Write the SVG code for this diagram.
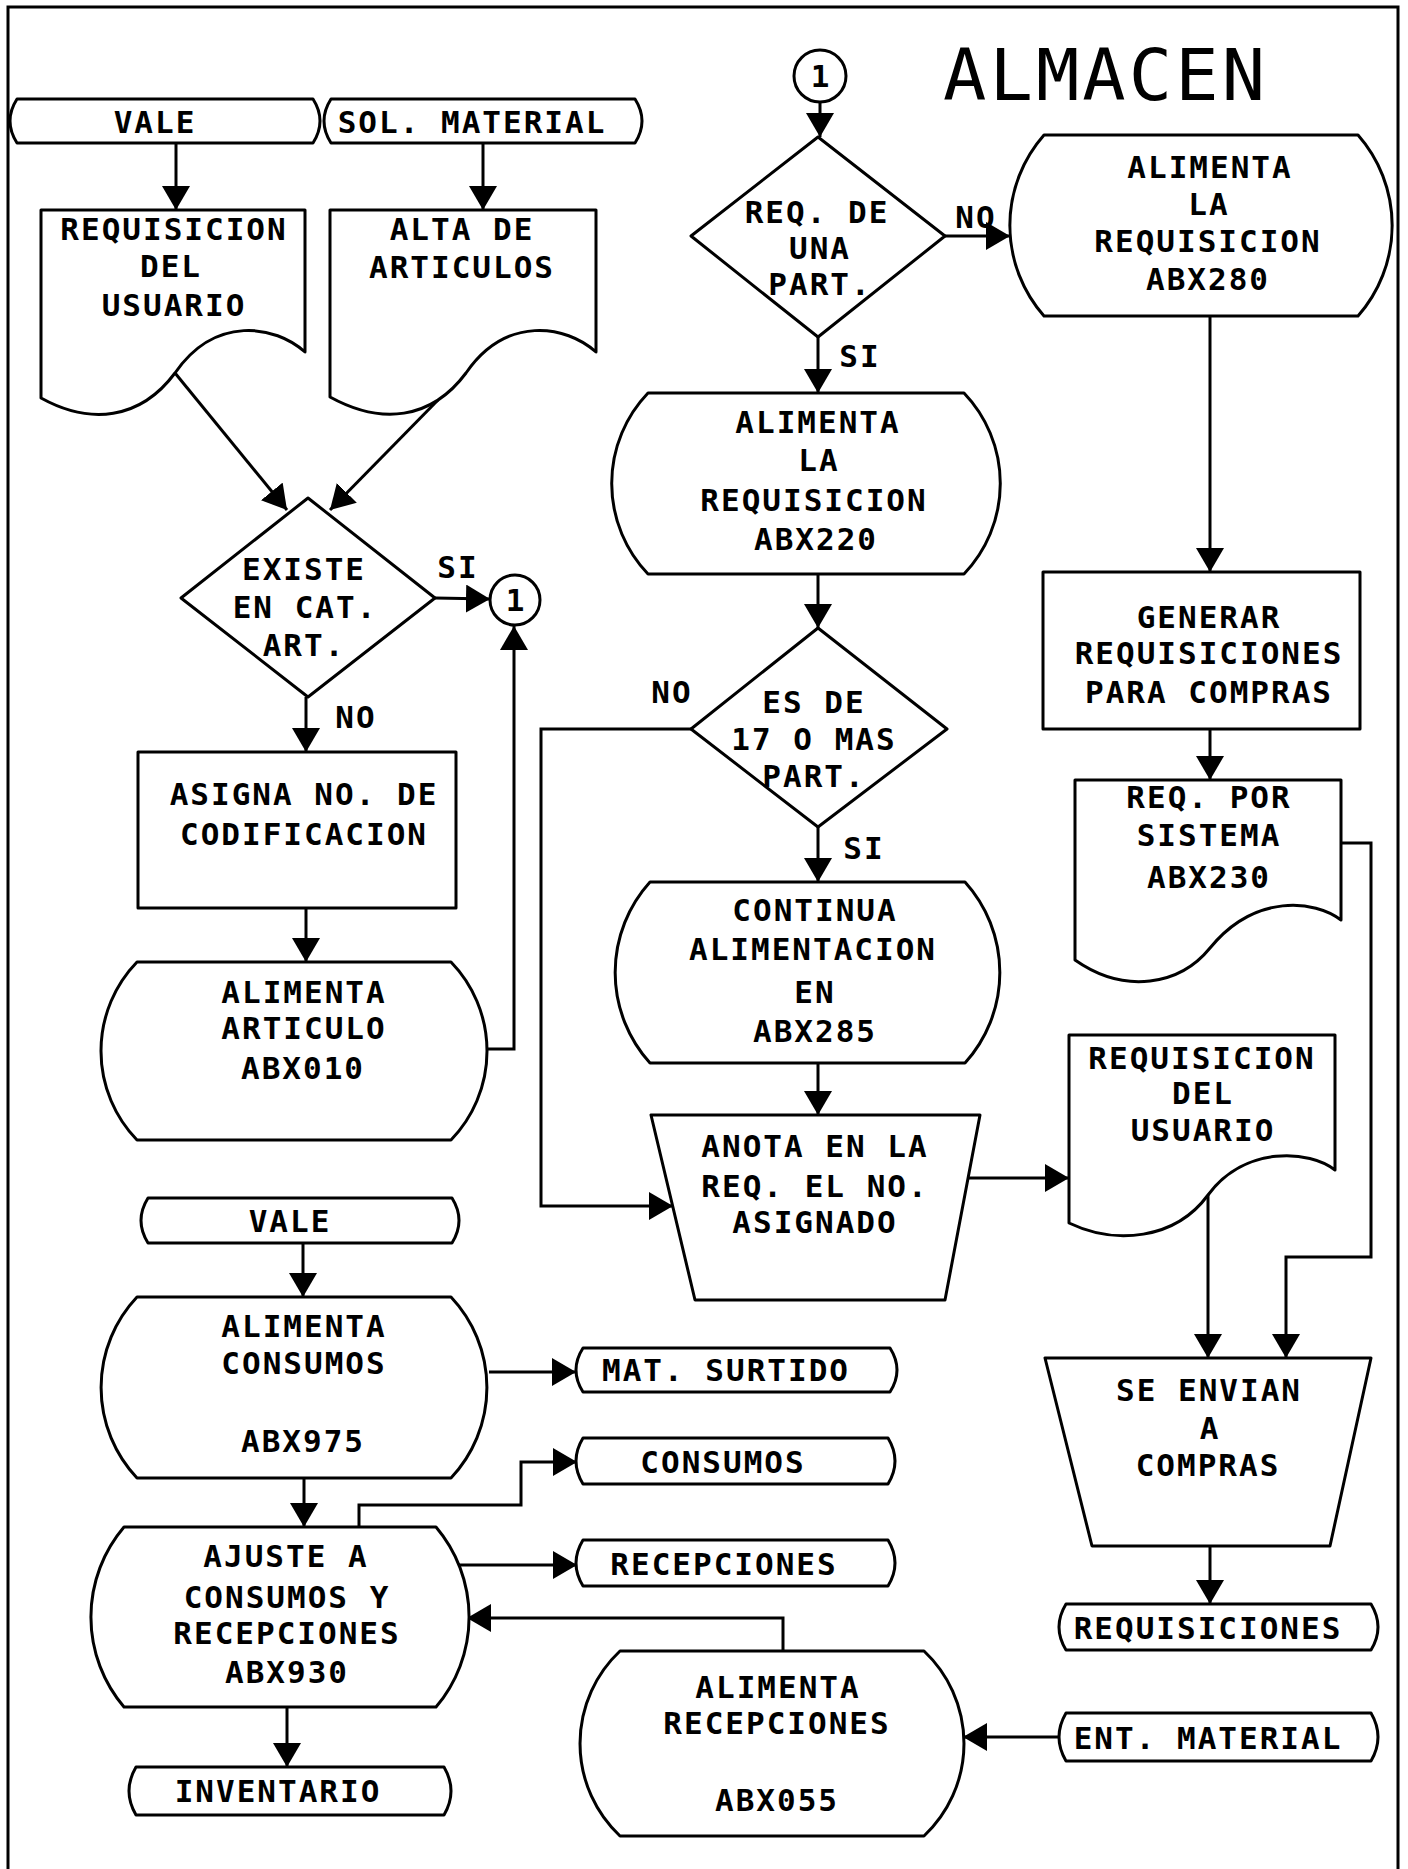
<svg xmlns="http://www.w3.org/2000/svg" width="1408" height="1869" viewBox="0 0 1408 1869">
<style>
.s{fill:#fff;stroke:#000;stroke-width:3;stroke-linejoin:round}
.c{fill:none;stroke:#000;stroke-width:3;marker-end:url(#ah)}
.l{fill:none;stroke:#000;stroke-width:3}
.t{font-family:"DejaVu Sans Mono","Liberation Mono",monospace;font-size:31px;letter-spacing:2px;font-weight:bold;text-anchor:middle;fill:#000}
.ttl{font-family:"DejaVu Sans Mono","Liberation Mono",monospace;font-size:72px;text-anchor:middle;fill:#000}
</style>
<defs>
<marker id="ah" markerUnits="userSpaceOnUse" markerWidth="26" markerHeight="30" refX="24" refY="14" orient="auto"><path d="M0,0 L24,14 L0,28 Z" fill="#000"/></marker>
</defs>
<rect width="1408" height="1869" fill="#fff"/>
<path class="l" d="M8,1869 V7 H1398 V1869"/>
<text class="ttl" x="1104" y="100" textLength="322" lengthAdjust="spacing">ALMACEN</text>

<g id="connectors">
<path class="c" d="M176,143 V210"/>
<path class="c" d="M483,143 V210"/>
<path class="c" d="M175,373 L287,510"/>
<path class="c" d="M438,400 L330,510"/>
<path class="c" d="M435,598 L490,599"/>
<path class="c" d="M306,697 V752"/>
<path class="c" d="M306,908 V962"/>
<path class="c" d="M487,1049 H514 V626"/>
<path class="c" d="M303,1243 V1297"/>
<path class="c" d="M489,1372 H576"/>
<path class="c" d="M304,1478 V1527"/>
<path class="c" d="M359,1527 V1505 H521 V1462 H577"/>
<path class="c" d="M453,1565 H577"/>
<path class="c" d="M783,1651 V1618 H467"/>
<path class="c" d="M287,1707 V1767"/>
<path class="c" d="M1059,1737 H963"/>
<path class="c" d="M820,102 V137"/>
<path class="c" d="M945,236 H1010"/>
<path class="c" d="M818,337 V393"/>
<path class="c" d="M1210,316 V572"/>
<path class="c" d="M818,574 V628"/>
<path class="c" d="M691,729 H541 V1206 H673"/>
<path class="c" d="M818,827 V882"/>
<path class="c" d="M818,1063 V1115"/>
<path class="c" d="M961,1178 H1069"/>
<path class="c" d="M1210,729 V780"/>
<path class="c" d="M1341,843 H1371 V1257 H1286 V1358"/>
<path class="c" d="M1208,1195 V1358"/>
<path class="c" d="M1210,1546 V1604"/>
<text class="t" x="458" y="578">SI</text>
<text class="t" x="356" y="728">NO</text>
<text class="t" x="976" y="228">NO</text>
<text class="t" x="860" y="367">SI</text>
<text class="t" x="672" y="703">NO</text>
<text class="t" x="864" y="859">SI</text>
</g>

<g id="vale1"><path class="s" d="M17,99 H313 Q327,121 313,143 H17 Q3,121 17,99 Z"/><text class="t" x="155" y="133">VALE</text></g>
<g id="sol-material"><path class="s" d="M331,99 H635 Q649,121 635,143 H331 Q317,121 331,99 Z"/><text class="t" x="472" y="133">SOL. MATERIAL</text></g>

<g id="req-usuario1"><path class="s" d="M41,210 H305 V352 C275,325 215,315 175,373 C140,420 90,425 41,398 Z"/>
<text class="t" x="174" y="240">REQUISICION</text><text class="t" x="171" y="277">DEL</text><text class="t" x="174" y="316">USUARIO</text></g>

<g id="alta-articulos"><path class="s" d="M330,210 H596 V352 C566,325 506,315 466,373 C431,420 381,425 330,397 Z"/>
<text class="t" x="462" y="240">ALTA DE</text><text class="t" x="462" y="278">ARTICULOS</text></g>

<g id="existe"><path class="s" d="M308,498 L435,598 L308,697 L181,598 Z"/>
<text class="t" x="304" y="580">EXISTE</text><text class="t" x="305" y="618">EN CAT.</text><text class="t" x="304" y="656">ART.</text></g>

<g id="con1a"><circle class="s" cx="515" cy="600" r="25"/><text class="t" x="516" y="611">1</text></g>

<g id="asigna"><rect class="s" x="138" y="752" width="318" height="156"/>
<text class="t" x="304" y="805">ASIGNA NO. DE</text><text class="t" x="304" y="845">CODIFICACION</text></g>

<g id="abx010"><path class="s" d="M137,962 H451 A128,128 0 0 1 451,1140 H137 A128,128 0 0 1 137,962 Z"/>
<text class="t" x="304" y="1003">ALIMENTA</text><text class="t" x="304" y="1039">ARTICULO</text><text class="t" x="303" y="1079">ABX010</text></g>

<g id="vale2"><path class="s" d="M148,1198 H452 Q466,1220.5 452,1243 H148 Q134,1220.5 148,1198 Z"/><text class="t" x="290" y="1232">VALE</text></g>

<g id="abx975"><path class="s" d="M137,1297 H451 A132,132 0 0 1 451,1478 H137 A132,132 0 0 1 137,1297 Z"/>
<text class="t" x="304" y="1337">ALIMENTA</text><text class="t" x="304" y="1374">CONSUMOS</text><text class="t" x="303" y="1452">ABX975</text></g>

<g id="mat-surtido"><path class="s" d="M583,1348 H890 Q904,1370 890,1392 H583 Q569,1370 583,1348 Z"/><text class="t" x="726" y="1381">MAT. SURTIDO</text></g>
<g id="consumos"><path class="s" d="M583,1438 H888 Q902,1461 888,1484 H583 Q569,1461 583,1438 Z"/><text class="t" x="723" y="1473">CONSUMOS</text></g>
<g id="recepciones"><path class="s" d="M583,1540 H888 Q902,1563 888,1586 H583 Q569,1563 583,1540 Z"/><text class="t" x="724" y="1575">RECEPCIONES</text></g>

<g id="abx930"><path class="s" d="M124,1527 H436 A139,139 0 0 1 436,1707 H124 A139,139 0 0 1 124,1527 Z"/>
<text class="t" x="286" y="1567">AJUSTE A</text><text class="t" x="287" y="1608">CONSUMOS Y</text><text class="t" x="287" y="1644">RECEPCIONES</text><text class="t" x="287" y="1683">ABX930</text></g>

<g id="inventario"><path class="s" d="M136,1767 H444 Q458,1791 444,1815 H136 Q122,1791 136,1767 Z"/><text class="t" x="278" y="1802">INVENTARIO</text></g>

<g id="abx055"><path class="s" d="M620,1651 H924 A127,127 0 0 1 924,1836 H620 A127,127 0 0 1 620,1651 Z"/>
<text class="t" x="778" y="1698">ALIMENTA</text><text class="t" x="777" y="1734">RECEPCIONES</text><text class="t" x="777" y="1811">ABX055</text></g>

<g id="ent-material"><path class="s" d="M1066,1713 H1371 Q1385,1737 1371,1761 H1066 Q1052,1737 1066,1713 Z"/><text class="t" x="1208" y="1749">ENT. MATERIAL</text></g>

<g id="con1b"><circle class="s" cx="820" cy="76" r="26"/><text class="t" x="821" y="87">1</text></g>

<g id="req-una"><path class="s" d="M818,137 L945,236 L818,337 L691,236 Z"/>
<text class="t" x="817" y="223">REQ. DE</text><text class="t" x="820" y="259">UNA</text><text class="t" x="820" y="295">PART.</text></g>

<g id="abx280"><path class="s" d="M1044,135 H1358 A137,137 0 0 1 1358,316 H1044 A137,137 0 0 1 1044,135 Z"/>
<text class="t" x="1210" y="178">ALIMENTA</text><text class="t" x="1209" y="215">LA</text><text class="t" x="1208" y="252">REQUISICION</text><text class="t" x="1208" y="290">ABX280</text></g>

<g id="abx220"><path class="s" d="M648,393 H964 A131,131 0 0 1 964,574 H648 A131,131 0 0 1 648,393 Z"/>
<text class="t" x="818" y="433">ALIMENTA</text><text class="t" x="819" y="471">LA</text><text class="t" x="814" y="511">REQUISICION</text><text class="t" x="816" y="550">ABX220</text></g>

<g id="es-de"><path class="s" d="M818,628 L947,729 L818,827 L691,729 Z"/>
<text class="t" x="814" y="713">ES DE</text><text class="t" x="814" y="750">17 O MAS</text><text class="t" x="814" y="787">PART.</text></g>

<g id="abx285"><path class="s" d="M650,882 H965 A135,135 0 0 1 965,1063 H650 A135,135 0 0 1 650,882 Z"/>
<text class="t" x="815" y="921">CONTINUA</text><text class="t" x="813" y="960">ALIMENTACION</text><text class="t" x="815" y="1003">EN</text><text class="t" x="815" y="1042">ABX285</text></g>

<g id="anota"><path class="s" d="M651,1115 H980 L945,1300 H695 Z"/>
<text class="t" x="815" y="1157">ANOTA EN LA</text><text class="t" x="815" y="1197">REQ. EL NO.</text><text class="t" x="815" y="1233">ASIGNADO</text></g>

<g id="req-usuario2"><path class="s" d="M1069,1035 H1335 V1170 C1310,1150 1245,1145 1208,1195 C1175,1240 1115,1245 1069,1223 Z"/>
<text class="t" x="1202" y="1069">REQUISICION</text><text class="t" x="1203" y="1104">DEL</text><text class="t" x="1203" y="1141">USUARIO</text></g>

<g id="generar"><rect class="s" x="1043" y="572" width="317" height="157"/>
<text class="t" x="1209" y="628">GENERAR</text><text class="t" x="1209" y="664">REQUISICIONES</text><text class="t" x="1209" y="703">PARA COMPRAS</text></g>

<g id="abx230"><path class="s" d="M1075,780 H1341 V920 C1315,900 1255,893 1210,948 C1180,985 1125,995 1075,960 Z"/>
<text class="t" x="1209" y="808">REQ. POR</text><text class="t" x="1209" y="846">SISTEMA</text><text class="t" x="1209" y="888">ABX230</text></g>

<g id="se-envian"><path class="s" d="M1045,1358 H1371 L1330,1546 H1092 Z"/>
<text class="t" x="1209" y="1401">SE ENVIAN</text><text class="t" x="1210" y="1439">A</text><text class="t" x="1208" y="1476">COMPRAS</text></g>

<g id="requisiciones"><path class="s" d="M1066,1604 H1371 Q1385,1627 1371,1650 H1066 Q1052,1627 1066,1604 Z"/><text class="t" x="1208" y="1639">REQUISICIONES</text></g>
</svg>
